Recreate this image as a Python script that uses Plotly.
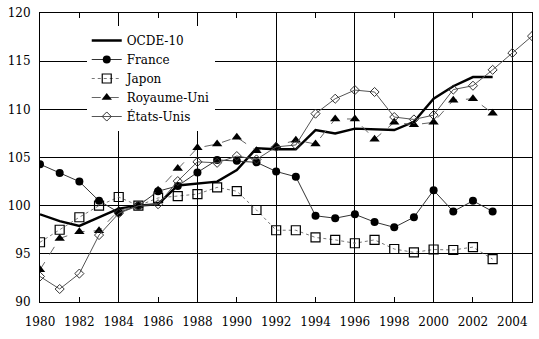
import plotly.graph_objects as go

years = list(range(1980, 2006))

ocde10 = [99.1, 98.4, 97.9, 98.8, 99.7, 100.0, 100.15, 102.1, 102.3, 102.5, 103.7,
          105.95, 105.85, 105.85, 107.85, 107.5, 108.0, 107.9, 107.85, 108.7, 111.1,
          112.4, 113.35, 113.35]
france = [104.3, 103.4, 102.5, 100.5, 99.3, 100.0, 101.5, 102.05, 103.45, 104.75, 104.65,
          104.5, 103.55, 103.0, 98.95, 98.7, 99.1, 98.3, 97.75, 98.8, 101.6,
          99.4, 100.5, 99.4]
japon = [96.2, 97.5, 98.8, 100.0, 100.9, 100.0, 100.8, 101.0, 101.2, 101.9, 101.5,
         99.55, 97.45, 97.45, 96.7, 96.45, 96.1, 96.45, 95.5, 95.15, 95.45,
         95.4, 95.7, 94.45]
royaume_uni = [93.35, 96.6, 97.3, 97.4, 99.5, 100.0, 101.6, 103.85, 106.0, 106.4, 107.1,
               105.7, 106.2, 106.8, 106.4, 109.0, 109.0, 106.9, 108.65, 108.4, 108.65,
               110.95, 111.1, 109.6]
etats_unis = [92.65, 91.35, 92.95, 96.95, 99.2, 100.0, 100.15, 102.55, 104.55, 104.45, 105.15,
              104.8, 106.1, 106.3, 109.55, 111.1, 112.0, 111.8, 109.2, 108.95, 109.4,
              112.05, 112.45, 114.1, 115.85, 117.6]

x_ticks = list(range(1980, 2005, 2))
grid_years = list(range(1980, 2005, 4))
y_ticks = [90, 95, 100, 105, 110, 115, 120]

FONT = "DejaVu Serif"

fig = go.Figure()

fig.add_trace(go.Scatter(
    x=years[:len(ocde10)], y=ocde10, name="OCDE-10", mode="lines",
    line=dict(color="black", width=2.4)))
fig.add_trace(go.Scatter(
    x=years[:len(france)], y=france, name="France", mode="lines+markers",
    line=dict(color="#333333", width=1),
    marker=dict(symbol="circle", size=8, color="black")))
fig.add_trace(go.Scatter(
    x=years[:len(japon)], y=japon, name="Japon", mode="lines+markers",
    line=dict(color="#777777", width=1, dash="dot"),
    marker=dict(symbol="square-open", size=9, color="black", line=dict(width=1.2))))
fig.add_trace(go.Scatter(
    x=years[:len(royaume_uni)], y=royaume_uni, name="Royaume-Uni", mode="lines+markers",
    line=dict(color="#666666", width=1, dash="dash"),
    marker=dict(symbol="triangle-up", size=9, color="black")))
fig.add_trace(go.Scatter(
    x=years[:len(etats_unis)], y=etats_unis, name="États-Unis", mode="lines+markers",
    line=dict(color="#555555", width=1),
    marker=dict(symbol="diamond-open", size=7, color="#333333", line=dict(width=1))))

fig.update_layout(
    width=539, height=339,
    margin=dict(l=40, r=7, t=13, b=37),
    paper_bgcolor="white", plot_bgcolor="white",
    font=dict(family=FONT, size=12, color="black"),
    showlegend=True,
    legend=dict(
        x=0.095, y=0.955, xanchor="left", yanchor="top",
        bgcolor="white", borderwidth=0,
        font=dict(family=FONT, size=12, color="black"),
        tracegroupgap=0, itemwidth=30,
    ),
    xaxis=dict(
        range=[1980, 2005], tickmode="array", tickvals=x_ticks,
        ticks="inside", ticklen=5, tickcolor="black", tickwidth=1,
        showline=True, linecolor="black", linewidth=1, mirror="ticks",
        showgrid=False, zeroline=False, ticklabelstandoff=9,
    ),
    xaxis2=dict(
        range=[1980, 2005], overlaying="x", anchor="y", side="bottom",
        tickmode="array", tickvals=grid_years, showticklabels=False,
        showgrid=True, gridcolor="black", gridwidth=1, showline=False,
        zeroline=False, ticks="",
    ),
    yaxis=dict(
        range=[90, 120], tickmode="array", tickvals=y_ticks,
        showgrid=True, gridcolor="black", gridwidth=1,
        showline=True, linecolor="black", linewidth=1, mirror=True,
        zeroline=False, ticks="", ticklabelstandoff=6,
    ),
)

# invisible trace keeps the overlaid grid axis active
fig.add_trace(go.Scatter(x=[1980, 2005], y=[90, 90], xaxis="x2", mode="lines",
                         line=dict(width=0), showlegend=False, hoverinfo="skip"))

fig.write_html("out.html")
